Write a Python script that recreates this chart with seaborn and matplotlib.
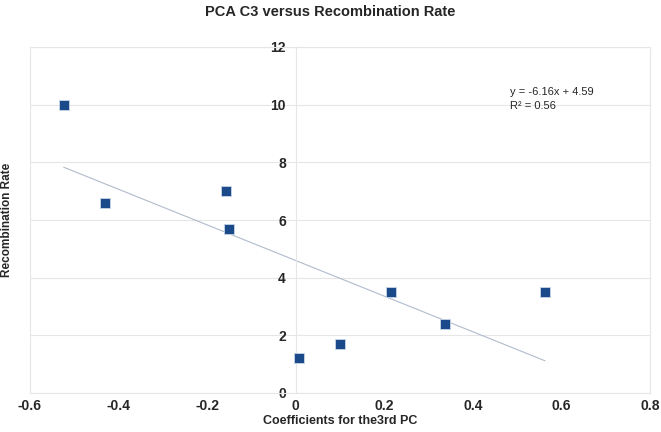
import numpy as np
import pandas as pd
import matplotlib
matplotlib.use("Agg")
import matplotlib.pyplot as plt
import seaborn as sns

# values
pc3_coef = [-0.524, -0.431, -0.157, -0.151, 0.007, 0.100, 0.215, 0.338, 0.563]
recomb_rate = [10.0, 6.6, 7.0, 5.7, 1.2, 1.7, 3.5, 2.4, 3.5]
x_ticks = [-0.6, -0.4, -0.2, 0, 0.2, 0.4, 0.6, 0.8]
y_ticks = [0, 2, 4, 6, 8, 10, 12]

df = pd.DataFrame({"coef": pc3_coef, "rate": recomb_rate})

sns.set_style("white")
plt.rcParams["font.family"] = ["Liberation Sans", "DejaVu Sans"]

grid_col = "#e6e6e6"
fig = plt.figure(figsize=(6.61, 4.32), dpi=100)
ax = fig.add_axes([30 / 661, 1 - 393 / 432, 620 / 661, 346 / 432])

# trendline first so markers sit on top
sns.regplot(data=df, x="coef", y="rate", scatter=False, ci=None, truncate=True,
            color="#b0bccb", line_kws={"linewidth": 0.8}, ax=ax)
sns.scatterplot(data=df, x="coef", y="rate", marker="s", s=55, color="#1a4a8a",
                edgecolor="#c9d6e6", linewidth=0.6, zorder=3, ax=ax)

# y axis crosses at x = 0 (set before tick styling, it resets the ticks)
ax.spines["left"].set_position(("data", 0))

ax.set_xlim(-0.6, 0.8)
ax.set_ylim(0, 12)
ax.set_xticks(x_ticks)
ax.set_yticks(y_ticks)
ax.set_xticklabels(["-0.6", "-0.4", "-0.2", "0", "0.2", "0.4", "0.6", "0.8"],
                   fontweight="bold", fontsize=10)
ax.set_yticklabels([str(v) for v in y_ticks], fontweight="bold", fontsize=10)

ax.yaxis.grid(True, color=grid_col, linewidth=0.8)
ax.set_axisbelow(True)

for sp in ax.spines.values():
    sp.set_color(grid_col)
    sp.set_linewidth(0.8)
ax.plot([0, 0], [0, 1], transform=ax.transAxes, color=grid_col, lw=0.8,
        clip_on=False, zorder=0)
ax.tick_params(axis="both", length=3, width=0.6, color=grid_col, pad=4)
ax.tick_params(axis="x", direction="in")
ax.tick_params(axis="y", direction="out")

ax.set_xlabel("Coefficients for the3rd PC", fontsize=9, fontweight="bold", labelpad=2)
ax.set_ylabel("")
fig.text(7 / 661, 1 - 220 / 432, "Recombination Rate", rotation=90, fontsize=8.5,
         fontweight="bold", ha="center", va="center")
fig.text(0.5, 1 - 12 / 432, "PCA C3 versus Recombination Rate", fontsize=10.5,
         fontweight="bold", ha="center", va="center")

ax.text(0.485, 10.43, "y = -6.16x + 4.59", fontsize=8, ha="left", va="center")
ax.text(0.485, 9.95, "R² = 0.56", fontsize=8, ha="left", va="center")

fig.savefig("out.png", dpi=100)
